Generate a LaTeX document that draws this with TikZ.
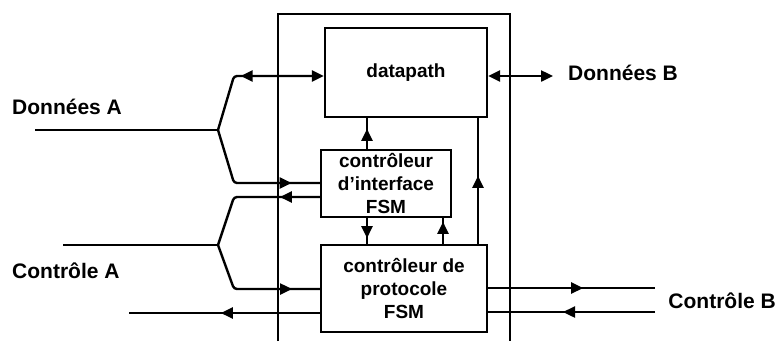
\documentclass[tikz,border=0pt]{standalone}
\usepackage{fontspec}
\setmainfont{Liberation Sans}
\usetikzlibrary{arrows.meta,decorations.markings}
\tikzset{
  >={Triangle[length=12pt,width=11pt]},
  wire/.style={line width=2.4pt},
  markfwd/.style={postaction={decorate},decoration={markings,mark=at position #1 with {\arrow{>}}}},
  markrev/.style={postaction={decorate},decoration={markings,mark=at position #1 with {\arrowreversed{>}}}},
  blk/.style={draw,line width=2.4pt,inner sep=2pt,align=center,font=\fontsize{19}{23}\selectfont\bfseries},
  lbl/.style={inner sep=0pt,font=\fontsize{21}{24}\selectfont\bfseries},
}
\begin{document}
\begin{tikzpicture}[x=1pt,y=-1pt]
\useasboundingbox (0,0) rectangle (778,341);
% outer frame
\draw[wire] (278,341) -- (278,14) -- (510,14) -- (510,341);
% blocks
\node[blk,minimum width=162pt,minimum height=89pt] (dp) at (406,72.5) {datapath};
\node[blk,minimum width=130pt,minimum height=67pt] (ifc) at (386,183.5) {contrôleur\\d'interface\\FSM};
\node[blk,minimum width=166pt,minimum height=87pt] (proto) at (404,288.5) {contrôleur de\\protocole\\FSM};
% coordinates
\coordinate (inA) at (35,130);
\coordinate (fA) at (218,130);
\coordinate (c1) at (234,76);
\coordinate (c2) at (234,183);
\coordinate (c3) at (234,197);
\coordinate (fC) at (218,245);
\coordinate (inC) at (63,245);
\coordinate (c4) at (234,289);
\coordinate (outC) at (129,313);
\coordinate (dB) at (553,76);
\coordinate (cb1) at (655,288);
\coordinate (cb2) at (655,312);
\coordinate (xa) at (367,0);
\coordinate (xb) at (443,0);
\coordinate (xc) at (478,0);
% labels
\node[lbl,anchor=base west] (tA) at (12,114) {Données A};
\node[lbl,anchor=base west] (tC) at (12,278) {Contrôle A};
\node[lbl,anchor=base west] (tB) at (568,80) {Données B};
\node[lbl,anchor=base east] (tCB) at (776,308) {Contrôle B};
% Données A
\draw[wire] (inA) -- (fA);
\draw[wire,rounded corners=3pt,->,markrev=62pt] (fA) -- (c1) -- (c1 -| dp.west);
\draw[wire,rounded corners=3pt,markfwd=112pt] (fA) -- (c2) -- (c2 -| ifc.west);
% Données B
\draw[wire,<->] (dp.east |- c1) -- (dB);
% Contrôle A
\draw[wire,rounded corners=3pt,markfwd=40pt] (c3 -| ifc.west) -- (c3) -- (fC);
\draw[wire] (inC) -- (fC);
\draw[wire,rounded corners=3pt,markfwd=104pt] (fC) -- (c4) -- (c4 -| proto.west);
\draw[wire,markfwd=99pt] (outC -| proto.west) -- (outC);
% Contrôle B
\draw[wire,markfwd=95pt] (cb1 -| proto.east) -- (cb1);
\draw[wire,markfwd=92pt] (cb2) -- (cb2 -| proto.east);
% internal
\draw[wire,markfwd=20pt] (ifc.north -| xa) -- (dp.south -| xa);
\draw[wire,markfwd=20pt] (ifc.south -| xa) -- (proto.north -| xa);
\draw[wire,markfwd=22pt] (proto.north -| xb) -- (ifc.south -| xb);
\draw[wire,markfwd=68pt] (proto.north -| xc) -- (dp.south -| xc);
\end{tikzpicture}
\end{document}
